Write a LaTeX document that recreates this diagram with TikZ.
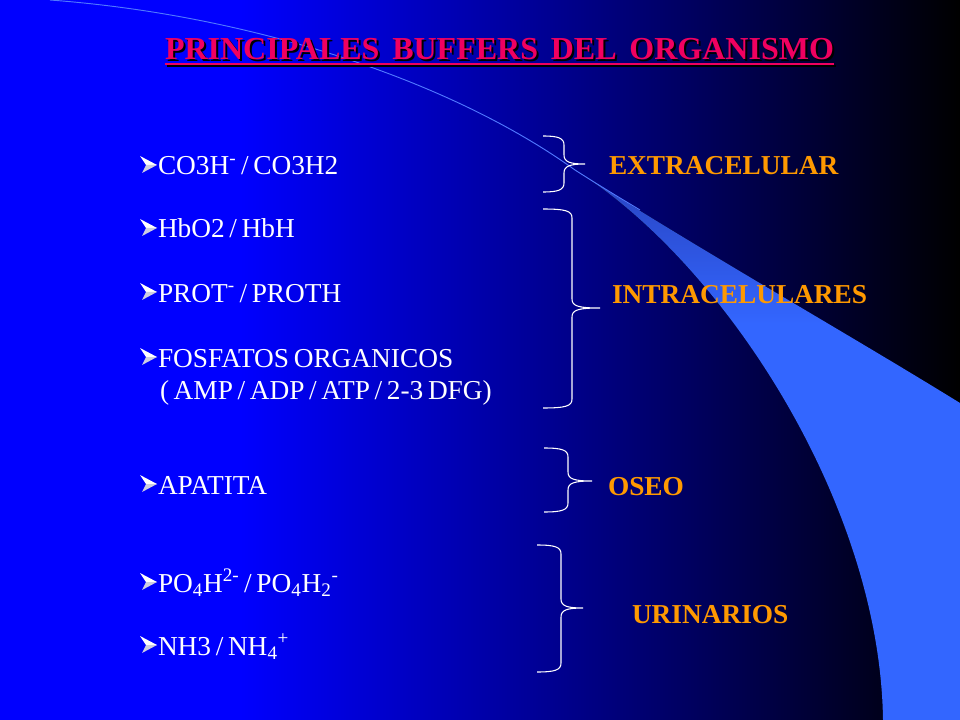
\documentclass[tikz,border=0pt]{standalone}
\usepackage{fontspec}
\setmainfont{Liberation Serif}
\definecolor{bgblue}{RGB}{0,0,255}
\definecolor{swA}{RGB}{51,102,255}
\definecolor{swB}{RGB}{40,66,190}
\definecolor{thinline}{RGB}{80,120,255}
\definecolor{titlered}{RGB}{240,0,96}
\definecolor{lblorange}{RGB}{255,153,0}
\definecolor{bulgrey}{RGB}{205,205,225}
\pgfdeclarehorizontalshading{bgshade}{100bp}{color(0bp)=(bgblue); color(37.5bp)=(bgblue); color(75bp)=(black); color(100bp)=(black)}
\pgfdeclareverticalshading{swshade}{100bp}{color(0bp)=(swA); color(61bp)=(swA); color(75bp)=(swB); color(100bp)=(swB)}
\tikzset{
  itemtxt/.style={anchor=base west, inner sep=0pt, outer sep=0pt, text=white, font=\fontsize{20.5}{24}\selectfont, execute at begin node={\spaceskip=0.17em\relax}},
  lbltxt/.style={anchor=base west, inner sep=0pt, outer sep=0pt, text=lblorange, font=\fontsize{20.5}{24}\selectfont\bfseries},
  ttltxt/.style={anchor=base, inner sep=0pt, outer sep=0pt, font=\fontsize{24}{29}\selectfont\bfseries, execute at begin node={\spaceskip=0.2em\relax}},
  bracestyle/.style={draw=white, line width=0.8pt},
}
% brace: left x, top y, vertical x, tip x, tip y, bottom y
\newcommand\mybrace[6]{%
  \draw[bracestyle] (#1,#2) .. controls (#3-6,#2) and (#3,#2+2) .. (#3,#2+9)
    -- (#3,#5-9) .. controls (#3,#5-2) and (#3+6,#5) .. (#4,#5)
    .. controls (#3+6,#5) and (#3,#5+2) .. (#3,#5+9)
    -- (#3,#6-9) .. controls (#3,#6-2) and (#3-6,#6) .. (#1,#6);}
% bullet at baseline y
\newcommand\mybul[1]{%
  \fill[white] (140,#1-19) -- (157,#1-10) -- (146,#1-10) -- cycle;
  \fill[bulgrey] (146,#1-10) -- (157,#1-10) -- (142,#1-2) -- cycle;}
\begin{document}
\begin{tikzpicture}[x=0.75pt,y=-0.75pt]
\useasboundingbox (0,0) rectangle (960,720);
% background
\fill[shading=bgshade] (0,0) rectangle (960,720);
% swoosh
\fill[shading=swshade] (575,170) .. controls (700,250) and (850,335) .. (960,403)
  -- (960,720) -- (883,720) .. controls (880,500) and (720,260) .. (575,170) -- cycle;
\draw[thinline, line width=0.7pt] (50,0) .. controls (250,15) and (450,80) .. (575,170)
  .. controls (600,186) and (620,198) .. (640,210);
% title with shadow
\node[ttltxt, text=black] (ttlshadow) at (501.5,62) {PRINCIPALES~ BUFFERS~ DEL~ ORGANISMO};
\draw[black, line width=1.9pt] ([yshift=-3pt]ttlshadow.base west) -- ([yshift=-3pt]ttlshadow.base east);
\node[ttltxt, text=titlered] (ttl) at (499.5,60) {PRINCIPALES~ BUFFERS~ DEL~ ORGANISMO};
\draw[titlered, line width=1.9pt] ([yshift=-3pt]ttl.base west) -- ([yshift=-3pt]ttl.base east);
% items
\mybul{175}
\node[itemtxt] (i1) at (158,175) {CO3H\textsuperscript{-} / CO3H2};
\mybul{238}
\node[itemtxt] (i2) at (158,238) {HbO2 / HbH};
\mybul{302}
\node[itemtxt] (i3) at (158,302) {PROT\textsuperscript{-} / PROTH};
\mybul{367}
\node[itemtxt] (i4) at (158,367) {FOSFATOS ORGANICOS};
\node[itemtxt] (i5) at (160,399) {( AMP / ADP / ATP / 2-3 DFG)};
\mybul{494}
\node[itemtxt] (i6) at (158,494) {APATITA};
\mybul{592}
\node[itemtxt] (i7) at (158,592) {PO\textsubscript{4}H\textsuperscript{2-} / PO\textsubscript{4}H\textsubscript{2}\textsuperscript{-}};
\mybul{655}
\node[itemtxt] (i8) at (158,655) {NH3 / NH\textsubscript{4}\textsuperscript{+}};
% braces
\mybrace{543}{136}{564}{585}{164}{192}
\mybrace{543}{209}{572}{600}{308}{408}
\mybrace{544}{448}{568}{592}{481}{512}
\mybrace{537}{545}{561}{583}{608}{672}
% labels
\node[lbltxt] (l1) at (609,175) {EXTRACELULAR};
\node[lbltxt] (l2) at (612,303) {INTRACELULARES};
\node[lbltxt] (l3) at (608,495) {OSEO};
\node[lbltxt] (l4) at (632,623) {URINARIOS};
\end{tikzpicture}
\end{document}
